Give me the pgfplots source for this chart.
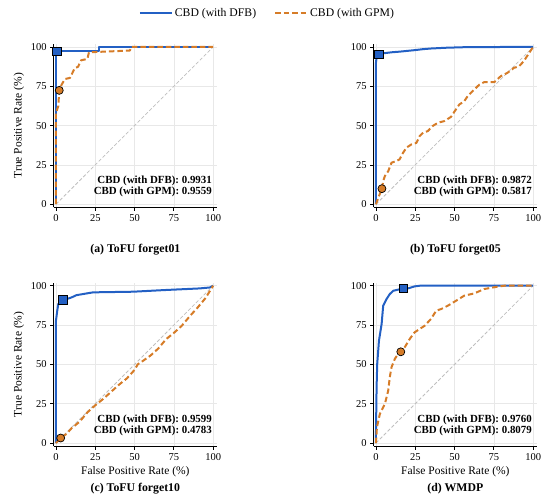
\documentclass[border=0pt]{standalone}
\usepackage{fontspec}
\setmainfont{Liberation Serif}
\usepackage{pgfplots}
\pgfplotsset{compat=1.18}
\definecolor{dfb}{RGB}{35,96,196}
\definecolor{gpm}{RGB}{214,124,40}
\tikzset{
 anno/.style={anchor=south east, align=right, inner sep=0pt, font=\bfseries\fontsize{10.9}{11}\selectfont},
 subcap/.style={font=\bfseries\fontsize{11.8}{13}\selectfont},
}
\pgfplotsset{
 rocax/.style={
  scale only axis, width=163.5pt, height=163.6pt,
  xmin=-1.5, xmax=102.5, ymin=-2, ymax=102,
  axis x line*=bottom, axis y line*=left,
  axis line style={line width=0.9pt, -},
  xtick={0,25,50,75,100}, ytick={0,25,50,75,100},
  tick align=outside, major tick length=3.5pt,
  tick style={black, line width=0.8pt},
  grid=major, major grid style={gray!18, line width=0.7pt},
  /pgf/number format/assume math mode=true,
  ticklabel style={font=\fontsize{10.5}{12}\selectfont},
  label style={font=\fontsize{11.5}{13}\selectfont},
  xlabel style={at={(rel axis cs:0.5,-0.155)}, anchor=center},
  ylabel style={at={(rel axis cs:-0.212,0.5)}, anchor=center},
  clip mode=individual,
 },
 dfbline/.style={dfb, line width=2pt, solid, line join=round},
 gpmline/.style={gpm, line width=2pt, dash pattern=on 5.5pt off 3pt, line join=round},
 diag/.style={gray!50, line width=0.8pt, dash pattern=on 3.5pt off 2pt},
 sqmark/.style={only marks, mark=square*, mark size=4.3pt, mark options={fill=dfb, draw=black, line width=0.7pt, solid}},
 cmark/.style={only marks, mark=*, mark size=4pt, mark options={fill=gpm, draw=black, line width=0.7pt, solid}},
}
\begin{document}
\begin{tikzpicture}[x=1pt,y=1pt]
\useasboundingbox (0,0) rectangle (544,502);

% (a)
\begin{axis}[rocax, at={(53.6pt,294.6pt)}, anchor=south west,
  ylabel={True Positive Rate (\%)},
  legend style={at={(rel axis cs:1.308,1.188)}, anchor=center, draw=none, fill=none, legend columns=2,
    font=\fontsize{11.7}{13}\selectfont, /tikz/every even column/.append style={column sep=16pt}},
  legend image code/.code={\draw[#1] (0pt,0pt) -- (32pt,0pt);}]
\addplot[diag, forget plot] coordinates {(0,0) (100,100)};
\addplot[dfbline] coordinates {(0,0)(0,97.3)(27.5,97.3)(27.5,100)(100,100)};
\addlegendentry{CBD (with DFB)}
\addplot[gpmline] coordinates {(0,0)(0,58)(1.5,62.5)(2.1,72.4)(3.6,76)(5.7,79.6)(8.9,80.3)(12,86.6)(14,87.3)(16,91.5)(20,92.4)(21,96.6)(47,97.7)(48,100)(100,100)};
\addlegendentry{CBD (with GPM)}
\addplot[sqmark, forget plot] coordinates {(0.4,97.3)};
\addplot[cmark, forget plot] coordinates {(2.1,72.4)};
\node[anno] at (rel axis cs:0.969,0.064) {CBD (with DFB): 0.9931\\CBD (with GPM): 0.9559};
\node[subcap] at (rel axis cs:0.5,-0.26) {(a) ToFU forget01};
\end{axis}

% (b)
\begin{axis}[rocax, at={(373.6pt,294.6pt)}, anchor=south west]
\addplot[diag] coordinates {(0,0) (100,100)};
\addplot[dfbline] coordinates {(0,0)(0,90)(0.6,95)(1.7,95.3)(5,96)(10,96.6)(15,97)(20,97.5)(25,98)(30,98.6)(35,99)(45,99.5)(55,99.8)(85,100)(100,100)};
\addplot[gpmline] coordinates {(0,0)(1.5,4.2)(3.8,9.9)(4.6,14.8)(5.7,18)(7.8,21)(9.9,26.4)(13,27.5)(15,28.5)(17.3,32.8)(19.4,36)(22.5,38)(25.7,39)(27.8,43.3)(30,45.5)(33,46.5)(36,49.7)(39.4,51.8)(43.6,52.9)(47.8,55.6)(50,59)(53,63.4)(56.2,65.5)(58.3,68.7)(61.5,71.9)(65.7,76)(68.8,77.6)(75.2,77.6)(79.4,81.4)(83.6,83.5)(87.8,86.7)(91,87.7)(94.1,91)(97.3,96)(100,100)};
\addplot[sqmark] coordinates {(1.7,95.3)};
\addplot[cmark] coordinates {(3.8,9.9)};
\node[anno] at (rel axis cs:0.969,0.064) {CBD (with DFB): 0.9872\\CBD (with GPM): 0.5817};
\node[subcap] at (rel axis cs:0.5,-0.26) {(b) ToFU forget05};
\end{axis}

% (c)
\begin{axis}[rocax, at={(53.6pt,55.8pt)}, anchor=south west,
  ylabel={True Positive Rate (\%)}, xlabel={False Positive Rate (\%)}]
\addplot[diag] coordinates {(0,0) (100,100)};
\addplot[dfbline] coordinates {(0,0)(0,77.8)(0.8,84)(1.5,88.4)(4.2,91.1)(6.8,91.5)(10,92.6)(13,94)(19.5,95.1)(23.7,95.8)(49,96.2)(70,97.3)(83,97.9)(91.5,98.3)(97.9,98.9)(100,100)};
\addplot[gpmline] coordinates {(0,0)(3,3.2)(6.8,5.9)(10,9.5)(15,13.5)(20,19.5)(25,24)(30,28)(35,32.5)(40,37)(45,41)(50,46.5)(52,50)(55,52)(60,55.5)(65,60)(70,66)(75,70)(80,74.5)(85,80.5)(90,86)(95,92)(100,100)};
\addplot[sqmark] coordinates {(4.2,91.1)};
\addplot[cmark] coordinates {(3,3.2)};
\node[anno] at (rel axis cs:0.969,0.064) {CBD (with DFB): 0.9599\\CBD (with GPM): 0.4783};
\node[subcap] at (rel axis cs:0.5,-0.26) {(c) ToFU forget10};
\end{axis}

% (d)
\begin{axis}[rocax, at={(373.6pt,55.8pt)}, anchor=south west,
  xlabel={False Positive Rate (\%)}]
\addplot[diag] coordinates {(0,0) (100,100)};
\addplot[dfbline] coordinates {(0,0)(0,6)(0.4,35.5)(0.8,50.3)(1.9,65)(3.6,75.7)(4.6,87.3)(6.7,91.5)(8.8,94.7)(11,96.8)(14,97.5)(17.3,98.3)(20.4,98.3)(24.6,99.6)(27.8,100)(100,100)};
\addplot[gpmline] coordinates {(0,0)(0.6,10)(2.5,18.6)(5.7,25)(7.8,33.4)(8.8,41.9)(9.9,48.2)(12,53.5)(14.1,56.7)(15.8,58)(18.3,60.9)(21.5,66.2)(24.6,70.4)(31,74.6)(35,78.9)(38.3,84.1)(41.5,85.2)(45.7,87.3)(51,90.5)(56.2,93.7)(62.5,95.1)(68.8,97.9)(77.3,99.4)(81.5,100)(100,100)};
\addplot[sqmark] coordinates {(17.3,98.3)};
\addplot[cmark] coordinates {(15.8,58)};
\node[anno] at (rel axis cs:0.969,0.064) {CBD (with DFB): 0.9760\\CBD (with GPM): 0.8079};
\node[subcap] at (rel axis cs:0.5,-0.26) {(d) WMDP};
\end{axis}
\end{tikzpicture}
\end{document}
